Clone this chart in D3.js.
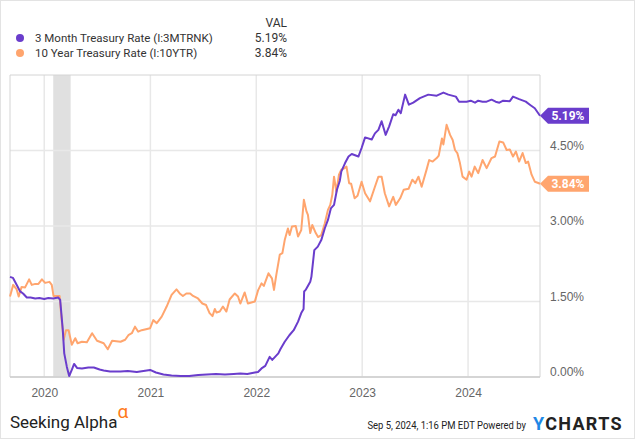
<!DOCTYPE html>
<html>
<head>
<meta charset="utf-8">
<script src="https://cdn.jsdelivr.net/npm/d3@7"></script>
<style>
  body { margin: 0; background: #fff; }
  svg { display: block; font-family: Roboto, "Noto Sans", sans-serif; }
</style>
</head>
<body>
<div id="chart"></div>
<script>
// 3 month treasury rate (I:3MTRNK)
var billDates = ["2019-09-05","2019-09-15","2019-10-01","2019-10-10","2019-10-20","2019-11-02","2019-11-15","2019-12-01","2019-12-15","2020-01-01","2020-01-15","2020-02-01","2020-02-18","2020-02-25","2020-03-05","2020-03-10","2020-03-19","2020-03-27","2020-04-05","2020-04-13","2020-04-23","2020-05-10","2020-06-01","2020-06-20","2020-07-10","2020-07-24","2020-08-15","2020-09-20","2020-10-15","2020-11-15","2020-12-31","2021-01-20","2021-02-15","2021-03-15","2021-04-15","2021-05-15","2021-06-15","2021-07-15","2021-08-15","2021-09-15","2021-10-15","2021-11-07","2021-12-01","2021-12-27","2022-01-07","2022-01-19","2022-02-01","2022-02-16","2022-02-25","2022-03-10","2022-03-18","2022-03-25","2022-04-09","2022-04-25","2022-05-10","2022-05-25","2022-06-05","2022-06-13","2022-06-15","2022-06-20","2022-07-06","2022-07-10","2022-07-20","2022-08-01","2022-08-13","2022-08-25","2022-09-05","2022-09-15","2022-09-26","2022-10-06","2022-10-16","2022-10-21","2022-11-03","2022-11-15","2022-11-26","2022-12-19","2022-12-30","2023-01-11","2023-02-03","2023-02-14","2023-02-26","2023-03-09","2023-03-23","2023-04-04","2023-04-18","2023-04-26","2023-05-06","2023-05-14","2023-05-29","2023-06-11","2023-06-26","2023-07-19","2023-08-17","2023-09-15","2023-10-08","2023-10-25","2023-11-20","2023-12-01","2023-12-27","2024-01-10","2024-01-25","2024-02-05","2024-02-20","2024-03-05","2024-03-22","2024-04-05","2024-04-18","2024-05-01","2024-05-24","2024-06-04","2024-06-25","2024-07-18","2024-08-01","2024-08-18","2024-08-30","2024-09-05"];
var billVals = [1.99,1.97,1.80,1.70,1.66,1.58,1.58,1.56,1.57,1.55,1.57,1.56,1.58,1.53,0.93,0.47,0.20,0.02,0.14,0.26,0.18,0.17,0.19,0.19,0.15,0.13,0.11,0.11,0.12,0.10,0.14,0.09,0.05,0.03,0.02,0.02,0.04,0.05,0.06,0.05,0.06,0.07,0.06,0.09,0.10,0.17,0.22,0.40,0.34,0.42,0.47,0.55,0.70,0.83,0.93,1.10,1.27,1.35,1.70,1.73,1.89,1.99,2.52,2.59,2.72,2.95,3.12,3.35,3.42,3.72,3.90,4.08,4.25,4.38,4.43,4.38,4.55,4.76,4.72,4.84,4.91,5.08,4.81,4.98,5.22,5.20,5.31,5.24,5.61,5.41,5.45,5.54,5.61,5.59,5.65,5.61,5.57,5.47,5.47,5.49,5.45,5.49,5.47,5.47,5.51,5.47,5.45,5.49,5.48,5.57,5.52,5.47,5.41,5.34,5.24,5.19];

// 10 year treasury rate (I:10YTR)
var noteDates = ["2019-09-05","2019-09-16","2019-09-28","2019-10-05","2019-10-15","2019-10-27","2019-11-10","2019-11-19","2019-12-01","2019-12-12","2019-12-24","2020-01-04","2020-01-19","2020-01-27","2020-02-02","2020-02-14","2020-02-23","2020-02-28","2020-03-08","2020-03-16","2020-03-25","2020-04-05","2020-04-17","2020-04-25","2020-05-10","2020-05-27","2020-06-14","2020-07-01","2020-07-24","2020-08-07","2020-08-22","2020-09-20","2020-10-06","2020-10-17","2020-10-29","2020-11-09","2020-11-20","2020-12-02","2020-12-31","2021-01-11","2021-01-23","2021-02-09","2021-02-26","2021-03-15","2021-04-01","2021-04-12","2021-04-23","2021-05-05","2021-05-18","2021-05-28","2021-06-14","2021-06-29","2021-07-12","2021-07-24","2021-08-03","2021-08-11","2021-08-17","2021-08-28","2021-09-08","2021-09-20","2021-10-01","2021-10-19","2021-10-30","2021-11-07","2021-11-22","2021-12-03","2021-12-27","2022-01-07","2022-01-19","2022-01-27","2022-02-12","2022-02-24","2022-03-03","2022-03-11","2022-03-23","2022-04-01","2022-04-09","2022-04-20","2022-04-26","2022-05-04","2022-05-17","2022-05-25","2022-06-05","2022-06-14","2022-06-23","2022-06-28","2022-07-06","2022-07-13","2022-07-25","2022-08-02","2022-08-13","2022-08-25","2022-09-05","2022-09-13","2022-09-20","2022-09-26","2022-10-04","2022-10-13","2022-10-21","2022-11-02","2022-11-08","2022-11-17","2022-11-24","2022-12-06","2022-12-16","2022-12-30","2023-01-11","2023-01-28","2023-02-14","2023-02-26","2023-03-09","2023-03-20","2023-04-04","2023-04-18","2023-04-27","2023-05-12","2023-05-24","2023-06-10","2023-06-23","2023-07-03","2023-07-14","2023-07-25","2023-08-11","2023-08-20","2023-09-01","2023-09-15","2023-09-22","2023-10-03","2023-10-08","2023-10-19","2023-10-31","2023-11-09","2023-11-17","2023-11-25","2023-12-04","2023-12-13","2023-12-27","2024-01-05","2024-01-13","2024-01-24","2024-02-05","2024-02-20","2024-03-05","2024-03-22","2024-04-03","2024-04-18","2024-05-01","2024-05-13","2024-05-24","2024-06-04","2024-06-14","2024-06-25","2024-07-07","2024-07-18","2024-07-26","2024-08-07","2024-08-18","2024-08-28","2024-09-05"];
var noteVals = [1.60,1.83,1.74,1.60,1.79,1.78,1.94,1.83,1.85,1.85,1.94,1.87,1.89,1.83,1.61,1.61,1.61,1.27,0.74,0.93,0.93,0.64,0.77,0.67,0.70,0.69,0.87,0.72,0.67,0.55,0.72,0.70,0.74,0.83,0.87,1.00,0.90,0.93,0.97,1.13,1.07,1.20,1.40,1.63,1.74,1.66,1.61,1.66,1.66,1.61,1.56,1.46,1.43,1.27,1.21,1.35,1.28,1.30,1.40,1.30,1.54,1.66,1.60,1.46,1.68,1.46,1.50,1.72,1.86,1.81,2.06,1.96,1.73,2.03,2.43,2.46,2.72,2.95,2.82,2.99,3.00,2.79,2.92,3.52,3.29,3.22,2.86,3.02,2.86,2.78,2.82,3.05,3.32,3.42,3.62,3.98,3.68,4.02,4.12,4.15,4.18,3.85,3.84,3.55,3.60,3.88,3.65,3.49,3.78,3.98,3.98,3.65,3.39,3.58,3.42,3.55,3.72,3.74,3.92,3.85,3.98,3.78,4.12,4.31,4.28,4.35,4.40,4.74,4.62,5.01,4.81,4.71,4.51,4.45,4.25,3.98,3.92,4.08,3.98,4.18,4.05,4.31,4.15,4.35,4.38,4.68,4.66,4.51,4.52,4.38,4.48,4.28,4.45,4.25,4.28,4.02,3.88,3.86,3.84];

var yTicks = [0, 1.5, 3, 4.5];
var yearTicks = ["2020-01-01","2021-01-01","2022-01-01","2023-01-01","2024-01-01"];
var recession = ["2020-02-01","2020-04-01"];
var seriesNames = ["3 Month Treasury Rate (I:3MTRNK)", "10 Year Treasury Rate (I:10YTR)"];
var lastVals = ["5.19%", "3.84%"];

var purple = "#6a3dcc", orange = "#ffa56e";
var W = 635, H = 439;
var margin = {top: 75, right: 95, bottom: 62, left: 10};
var parse = d3.timeParse("%Y-%m-%d");

var svg = d3.select("#chart").append("svg")
  .attr("width", W).attr("height", H);

// outer border
svg.append("rect").attr("x", 0.5).attr("y", 0.5)
  .attr("width", W - 1).attr("height", H - 1)
  .attr("fill", "#fff").attr("stroke", "#e3e3e3");

var x = d3.scaleTime()
  .domain([parse("2019-09-05"), parse("2024-09-05")])
  .range([margin.left, W - margin.right]);
var y = d3.scaleLinear()
  .domain([0, 6])
  .range([H - margin.bottom, margin.top]);

// recession band
svg.append("rect")
  .attr("x", x(parse(recession[0])))
  .attr("y", y(6))
  .attr("width", x(parse(recession[1])) - x(parse(recession[0])))
  .attr("height", y(0) - y(6))
  .attr("fill", "#e0e0e0");

// grid
svg.append("g").selectAll("line").data(yTicks).enter().append("line")
  .attr("x1", x.range()[0]).attr("x2", x.range()[1])
  .attr("y1", function(d) { return y(d); }).attr("y2", function(d) { return y(d); })
  .attr("stroke", "#e8e8e8").attr("stroke-width", 1.5);
svg.append("g").selectAll("line").data(yearTicks).enter().append("line")
  .attr("x1", function(d) { return x(parse(d)); }).attr("x2", function(d) { return x(parse(d)); })
  .attr("y1", y(6)).attr("y2", y(0))
  .attr("stroke", "#e8e8e8").attr("stroke-width", 1.5);

// frame
svg.append("path")
  .attr("d", "M" + x.range()[0] + "," + y(0) + "V" + y(6) + "H" + x.range()[1] + "V" + y(0))
  .attr("fill", "none").attr("stroke", "#d4d4d4").attr("stroke-width", 1);
svg.append("line")
  .attr("x1", x.range()[0]).attr("x2", x.range()[1])
  .attr("y1", y(0)).attr("y2", y(0))
  .attr("stroke", "#cccccc").attr("stroke-width", 1.5);

// axes
var xAxis = svg.append("g")
  .attr("transform", "translate(0," + (y(0) + 6) + ")")
  .call(d3.axisBottom(x).tickValues(yearTicks.map(parse)).tickSize(0).tickFormat(d3.timeFormat("%Y")));
xAxis.select(".domain").remove();
xAxis.selectAll("text").attr("fill", "#666").attr("font-size", 12).attr("dy", "0.95em");

var yAxis = svg.append("g")
  .attr("transform", "translate(" + (x.range()[1] + 7) + ",0)")
  .call(d3.axisRight(y).tickValues(yTicks).tickSize(0).tickFormat(function(d) { return d3.format(".2f")(d) + "%"; }));
yAxis.select(".domain").remove();
yAxis.selectAll("text").attr("fill", "#666").attr("font-size", 12).attr("dy", "-0.1em");

// lines
var line = d3.line()
  .x(function(d) { return x(d[0]); })
  .y(function(d) { return y(d[1]); });
var bill = billDates.map(function(d, i) { return [parse(d), billVals[i]]; });
var note = noteDates.map(function(d, i) { return [parse(d), noteVals[i]]; });

svg.append("path").datum(note).attr("d", line)
  .attr("fill", "none").attr("stroke", orange).attr("stroke-width", 2).attr("stroke-linejoin", "round");
svg.append("path").datum(bill).attr("d", line)
  .attr("fill", "none").attr("stroke", purple).attr("stroke-width", 2).attr("stroke-linejoin", "round");

// end tags
[[billVals[billVals.length - 1], purple, lastVals[0]], [noteVals[noteVals.length - 1], orange, lastVals[1]]].forEach(function(t) {
  var ty = y(t[0]), x0 = x.range()[1];
  svg.append("path")
    .attr("d", "M" + x0 + "," + ty + "L" + (x0 + 8) + "," + (ty - 8) + "H" + (x0 + 49) + "V" + (ty + 8) + "H" + (x0 + 8) + "Z")
    .attr("fill", t[1]);
  svg.append("text").attr("x", x0 + 28).attr("y", ty).attr("dy", "0.36em")
    .attr("text-anchor", "middle").attr("fill", "#fff")
    .attr("font-size", 12).attr("font-weight", "bold").text(t[2]);
});

// legend
var legend = svg.append("g");
legend.append("text").attr("x", 287).attr("y", 27).attr("text-anchor", "end")
  .attr("font-size", 12).attr("fill", "#333").text("VAL");
[purple, orange].forEach(function(c, i) {
  var ly = 38 + i * 15;
  legend.append("circle").attr("cx", 20).attr("cy", ly).attr("r", 4).attr("fill", c);
  legend.append("text").attr("x", 35).attr("y", ly).attr("dy", "0.35em")
    .attr("font-size", 11.5).attr("fill", "#333").text(seriesNames[i]);
  legend.append("text").attr("x", 287).attr("y", ly).attr("dy", "0.35em").attr("text-anchor", "end")
    .attr("font-size", 12).attr("fill", "#333").text(lastVals[i]);
});

// footer
var sa = svg.append("text").attr("x", 10).attr("y", 428).attr("font-size", 17).attr("fill", "#222");
sa.append("tspan").text("Seeking Alpha");
sa.append("tspan").attr("dy", -10).attr("font-size", 19).attr("fill", "#ff7a1a").text("\u03b1");

// date stamp: narrow type, squeezed horizontally
svg.append("text")
  .attr("transform", "translate(526,429) scale(0.86,1)")
  .attr("text-anchor", "end")
  .attr("font-size", 11).attr("fill", "#222")
  .text("Sep 5, 2024, 1:16 PM EDT Powered by");
var yc = svg.append("text").attr("x", 533).attr("y", 430).attr("font-size", 18)
  .attr("font-weight", "bold").attr("letter-spacing", 1.3);
yc.append("tspan").attr("fill", "#1e88e5").text("Y");
yc.append("tspan").attr("fill", "#222").text("CHARTS");
</script>
</body>
</html>
